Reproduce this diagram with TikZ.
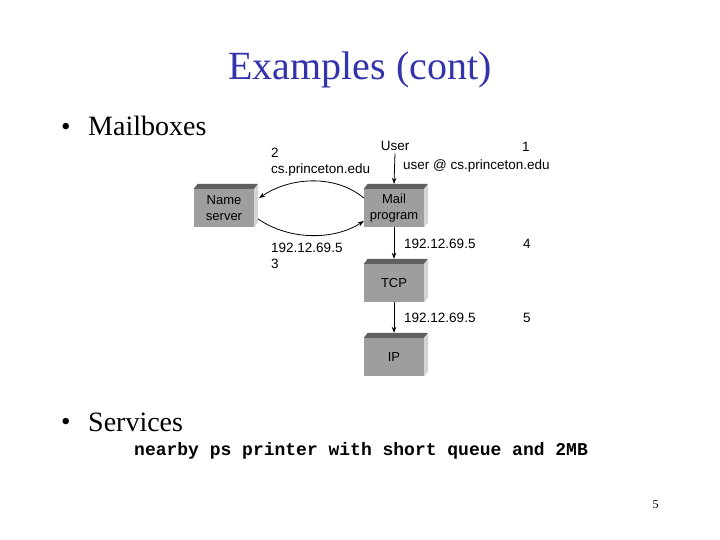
\documentclass[tikz,border=0pt]{standalone}
\usepackage{fontspec}
\setmainfont{Liberation Serif}
\setsansfont{Liberation Sans}
\setmonofont{Liberation Mono}
\usetikzlibrary{arrows.meta}
\definecolor{titleblue}{RGB}{51,51,170}
\definecolor{frontgray}{RGB}{158,158,158}
\definecolor{topgray}{RGB}{95,95,95}
\definecolor{sidegray}{RGB}{212,212,212}
\newcommand\mkfaces[1]{%
  \fill[topgray] (#1.north west) -- ([shift={(4pt,5pt)}]#1.north west) -- ([shift={(4pt,5pt)}]#1.north east) -- (#1.north east) -- cycle;
  \fill[sidegray] (#1.north east) -- ([shift={(4pt,5pt)}]#1.north east) -- ([shift={(4pt,5pt)}]#1.south east) -- (#1.south east) -- cycle;}
\begin{document}
\begin{tikzpicture}[x=1pt,y=-1pt,
  slide/.style={font=\fontsize{28}{32}\selectfont, anchor=base west, inner sep=0},
  bul/.style={font=\fontsize{27}{30}\selectfont, anchor=base west, inner sep=0},
  lbl/.style={font=\sffamily\fontsize{13.5}{15}\selectfont, anchor=base west, inner sep=0},
  box/.style={fill=frontgray, minimum width=60pt, minimum height=38pt, inner sep=0, align=center,
     font=\sffamily\fontsize{13}{16}\selectfont, text=black},
  arr/.style={-{Stealth[length=6pt,width=4.5pt]}, line width=0.8pt}]
\useasboundingbox (0,0) rectangle (720,540);
\fill[white] (0,0) rectangle (720,540);
% title and slide text
\node[anchor=base, inner sep=0, text=titleblue, font=\fontsize{40}{44}\selectfont] (title) at (360,80) {Examples (cont)};
\node[bul] (b1) at (61,135.5) {•};
\node[slide] (mailboxes) at (88,136) {Mailboxes};
\node[bul] (b2) at (61,430.5) {•};
\node[slide] (services) at (88,431) {Services};
\node[anchor=base west, inner sep=0, font=\ttfamily\bfseries\fontsize{18}{20}\selectfont] (svc) at (134,455) {nearby ps printer with short queue and 2MB};
\node[anchor=base, inner sep=0, font=\fontsize{12}{14}\selectfont] (page) at (655.5,508) {5};
% boxes
\node[box] (ns) at (224,208) {Name\\server};
\node[box] (mail) at (394,208) {Mail\\program};
\node[box] (tcp) at (394,283) {TCP};
\node[box] (ip) at (394,357) {IP};
\mkfaces{ns}\mkfaces{mail}\mkfaces{tcp}\mkfaces{ip}
% labels
\node[lbl, anchor=base] (user) at (395,151) {User};
\node[lbl] (n1) at (522,152) {1};
\node[lbl] (ua) at (403,170) {user @ cs.princeton.edu};
\node[lbl] (n2) at (271,158) {2};
\node[lbl] (cs) at (271,174) {cs.princeton.edu};
\node[lbl] (ip3) at (271,252) {192.12.69.5};
\node[lbl] (n3) at (271,268) {3};
\node[lbl] (ip4) at (404,248) {192.12.69.5};
\node[lbl] (n4) at (523,248) {4};
\node[lbl] (ip5) at (404,322) {192.12.69.5};
\node[lbl] (n5) at (523,322) {5};
% connectors
\draw[arr] (user.south) ++(0,2) coordinate (ustart) (ustart) -- ([yshift=5pt]mail.north);
\draw[arr] ([yshift=10pt]mail.west) .. controls (335,174) and (290,177) .. ([shift={(5pt,10pt)}]ns.east);
\draw[arr] ([shift={(4pt,-11pt)}]ns.east) .. controls (290,241) and (335,240) .. ([yshift=-13pt]mail.west);
\draw[arr] (mail.south) -- ([yshift=5pt]tcp.north);
\draw[arr] (tcp.south) -- ([yshift=5pt]ip.north);
\end{tikzpicture}
\end{document}
